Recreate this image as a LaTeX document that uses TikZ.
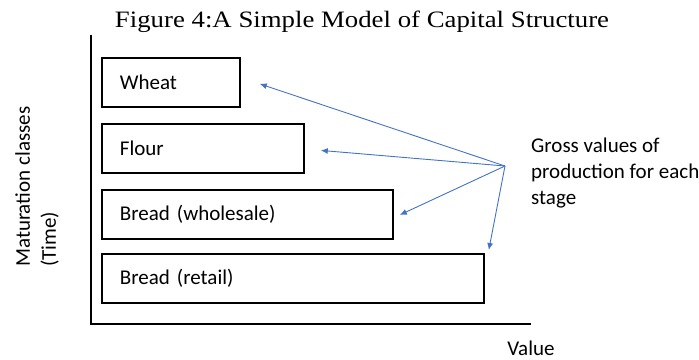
\documentclass[tikz,border=0pt]{standalone}
\usepackage{fontspec}
\setmainfont{Liberation Serif}
\newfontfamily\calib{Carlito}
\usetikzlibrary{arrows.meta,calc}
\definecolor{linkblue}{HTML}{4472C4}
\begin{document}
\begin{tikzpicture}[x=1pt,y=-1pt,
  stagebox/.style={draw=black, line width=1.8pt, rectangle, anchor=north west,
    minimum height=49pt, inner xsep=18pt, inner ysep=0pt, align=left,
    font=\calib\fontsize{21}{25}\selectfont},
  axisline/.style={line width=2.4pt, black},
  pointer/.style={linkblue, line width=0.9pt, -{Latex[length=7pt,width=6pt]}},
  label/.style={inner sep=0pt, font=\calib\fontsize{21}{26}\selectfont, align=left}]
\useasboundingbox (0,0) rectangle (699,359);

% title
\node[anchor=base, inner sep=0pt, font=\fontsize{23.5}{28}\selectfont] (title) at (362,27)
  {\scalebox{1.14}[1]{Figure 4:A Simple Model of Capital Structure}};

% axes
\coordinate (top) at (91,35);
\coordinate (origin) at (91,324);
\coordinate (right) at (531,324);
\draw[axisline] (top) -- (origin) -- (right);

% production stages
\node[stagebox, minimum width=138pt, text width=102pt] (wheat) at (101,57) {Wheat};
\node[stagebox, minimum width=202pt, text width=166pt] (flour) at (101,123) {Flour};
\node[stagebox, minimum width=291pt, text width=255pt] (whole) at (101,189) {Bread (wholesale)};
\node[stagebox, minimum width=382pt, text width=346pt] (retail) at (101,253) {Bread (retail)};

% axis labels
\node[label, anchor=base] (value) at (531,355) {Value};
\node[label, rotate=90, anchor=north west] (time) at (15,267) {Maturation classes\\(Time)};

% annotation and its pointers
\node[label, anchor=north west] (gross) at (531,138) {Gross values of\\production for each\\stage};
\coordinate (src) at (505,166);
\coordinate (tw) at ($(wheat.east)+(19,1.5)$);
\coordinate (tf) at ($(flour.east)+(16,2)$);
\coordinate (tb) at ($(whole.east)+(6,0.5)$);
\coordinate (tr) at ($(retail.north east)+(4,-3)$);
\draw[pointer] (src) -- (tw);
\draw[pointer] (src) -- (tf);
\draw[pointer] (src) -- (tb);
\draw[pointer] (src) -- (tr);
\end{tikzpicture}
\end{document}
